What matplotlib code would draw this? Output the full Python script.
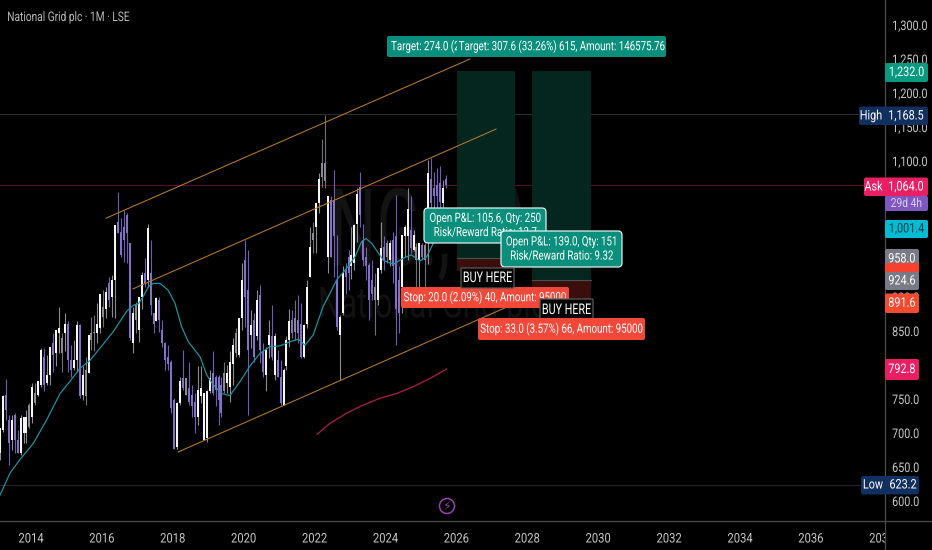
import matplotlib
matplotlib.use("Agg")
import matplotlib.pyplot as plt
import numpy as np
import pandas as pd
from matplotlib.patches import FancyBboxPatch, Rectangle, Circle
from matplotlib.patheffects import AbstractPathEffect
from matplotlib.transforms import Affine2D, Bbox

# ---------- data ----------
highs = [670,707,756,780,727,727,729,705,727,724,734,744,774,773,776,825,825,815,827,847,851,886,847,876,864,829,837,864,861,798,812,844,871,873,891,905,910,915,930,932,1006,1055,1016,1028,1023,979,886,893,900,937,957,1007,984,876,900,900,866,834,829,807,751,745,783,822,781,805,771,759,798,798,759,763,793,820,785,785,783,805,800,
         820,839,854,869,950,984,969,881,876,910,918,832,827,866,888,847,822,807,795,842,883,881,896,903,891,861,925,1003,1011,1038,1082,1133,1168,1048,1048,1087,991,874,945,950,969,1003,1008,1060,1084,1008,974,950,954,935,942,1011,989,984,984,996,1050,945,991,1006,1060,1048,999,979,979,979,979,1101,1104,1084,1089,1092,1072,1079]
tops = [665,707,754,756,719,719,727,690,722,724,724,741,768,759,776,822,812,785,827,832,851,854,839,861,861,807,807,859,859,785,793,844,847,849,861,905,886,908,920,925,1006,1011,996,1003,1021,979,876,888,900,932,935,1001,935,876,898,896,852,832,812,805,749,744,776,781,781,766,756,746,763,766,759,761,781,788,783,783,771,788,788,
        805,829,847,869,925,954,910,859,866,896,903,820,822,844,842,842,807,783,793,837,864,866,869,866,861,859,915,974,994,1038,1074,1097,1097,1048,1043,1043,925,871,935,940,959,962,1006,1052,1062,984,959,947,925,915,942,972,974,979,979,984,989,925,991,1003,1030,999,991,974,979,976,976,1082,1074,1060,1065,1067,1060,1074]
bottoms = [638,670,705,734,685,690,690,670,670,700,700,709,724,744,756,771,771,773,785,815,817,847,817,847,807,793,795,807,754,756,754,788,837,847,847,854,871,883,896,900,925,994,962,984,994,839,832,866,852,900,920,925,888,861,864,866,832,807,802,736,677,680,744,766,756,746,739,724,724,754,690,692,761,759,763,749,729,761,773,
           768,802,817,815,869,900,822,844,812,842,822,790,785,829,812,785,783,744,741,798,837,847,849,847,812,812,861,930,984,1003,1038,1077,1070,959,959,989,856,844,876,930,935,945,950,1008,1021,954,945,896,905,896,896,940,954,959,954,945,883,876,915,989,989,972,969,954,954,959,954,1030,1038,1048,1048,1040,1038,1065]
lows = [636,660,702,719,653,675,670,670,668,685,685,707,714,741,754,768,761,771,771,790,798,817,790,820,790,783,793,790,751,749,741,788,822,820,832,847,856,869,886,871,869,994,959,952,950,837,817,847,834,883,915,915,874,847,864,849,827,793,793,729,677,677,741,763,756,741,724,700,712,744,690,687,759,756,739,712,724,759,759,
        746,771,812,812,852,856,727,825,805,837,803,783,761,810,807,778,783,741,741,793,827,839,837,832,810,810,854,930,964,964,1023,1062,1060,935,959,930,852,778,874,905,910,927,940,981,1003,945,925,866,896,844,888,935,940,950,945,920,829,847,876,959,954,964,967,910,910,954,910,949,1028,1028,1028,1028,1028,1060]
kinds = list("WWWPPWPPWWWGWGWWPWWPWWGWPPWWPWGWGGWWGWPWWPPPPPWGWWPWPPWPPPPPPWWPGPPPWWWWWPPPPGW"
             "WWGWWPPWPWPPWWPWPPWWWPGPPWWWGWWGGWPPPWWPPWWWPPPPPGWWPGWPPPWWWPWGWPGWPPPPWP")
n = len(highs)
assert len(tops) == n and len(bottoms) == n and len(lows) == n and len(kinds) == n, (n, len(tops), len(bottoms), len(lows), len(kinds))
months = pd.date_range("2013-01-01", periods=n, freq="MS")

ma_years = [2013.13,2013.41,2013.69,2014.07,2014.44,2014.82,2015.10,2015.38,2015.67,2015.95,2016.32,2016.70,2016.89,2017.03,2017.17,2017.31,2017.45,2017.64,2017.87,2018.06,2018.25,2018.44,2018.77,2018.96,2019.14,2019.38,2019.61,2019.89,2020.17,2020.46,2020.74,2021.02,2021.30,2021.54,2021.73,2021.96,2022.24,2022.43,2022.62,2022.90,2023.14,2023.32,2023.45,2023.61,2023.94,2024.22,2024.50,2024.73,2024.97,2025.16,2025.35,2025.46]
ma_vals = [609,641,661,685,719,758,776,795,807,825,849,879,888,890,901,915,920,920,910,891,856,834,812,785,771,758,755,775,798,817,827,828,834,838,829,844,886,905,925,942,959,981,986,979,954,948,957,962,953,959,979,986]
long_years = [2022.07,2022.43,2022.90,2023.37,2023.84,2024.31,2024.78,2025.25,2025.72]
long_vals = [698,714,729,741,751,758,768,780,794]

channel_top = ([2016.12,2026.38],[1016,1250])
channel_mid = ([2016.88,2027.12],[912,1147])
channel_bot = ([2018.15,2027.37],[672,884])

high_price, low_price, ask_price = 1168.5, 623.2, 1064.0
trade_years = [(2026.02,2027.65),(2028.13,2029.80)]
trade_entry = [958.0,924.6]
trade_target = [1232.0,1232.0]
trade_stop = [938.0,891.6]

x_ticks = list(range(2014,2040,2))
y_ticks = list(range(600,1301,50))

# ---------- style ----------
plt.rcParams["font.family"] = ["Roboto", "DejaVu Sans"]
BG = "#000000"
TXT = "#c8c8c8"


class Squeeze(AbstractPathEffect):
    """The reference's type is horizontally narrow: narrow the glyphs about their centre or left edge."""
    def __init__(self, sx, anchor="center"):
        super().__init__()
        self.sx, self.anchor = sx, anchor

    def draw_path(self, renderer, gc, tpath, affine, rgbFace=None):
        ext = affine.transform_path(tpath).get_extents()
        x0 = (ext.x0 + ext.x1) / 2 if self.anchor == "center" else ext.x0
        tr = affine + Affine2D().translate(-x0, 0).scale(self.sx, 1).translate(x0, 0)
        renderer.draw_path(gc, tpath, tr, rgbFace)


fig = plt.figure(figsize=(9.32,5.5), dpi=100, facecolor=BG)
ax = fig.add_axes([0, 30/550, 885/932, 520/550], facecolor=BG)
ax.set_xlim(2013.126, 2038.09)
ax.set_ylim(572, 1336.8)

# watermark
fig_tr = fig.transFigure
ax.text(445/932, 1-236/550, "NG., 1M", transform=fig_tr, color="#131313", fontsize=78, ha="center", va="center",
        zorder=0.5, path_effects=[Squeeze(0.6)])
ax.text(432/932, 1-306/550, "National Grid plc", transform=fig_tr, color="#121212", fontsize=31, ha="center", va="center",
        zorder=0.5, path_effects=[Squeeze(0.72)])

# level lines
ax.axhline(high_price, color="#2b2b30", lw=0.8, zorder=1)
ax.axhline(low_price, color="#26262a", lw=0.8, zorder=1)
ax.axhline(ask_price, color="#52122a", lw=0.8, zorder=1)

# trade zones
for (x0,x1),e,t,s in zip(trade_years,trade_entry,trade_target,trade_stop):
    ax.add_patch(Rectangle((x0,e),x1-x0,t-e,fc="#05251f",ec="none",zorder=1.2))
    ax.add_patch(Rectangle((x0,s),x1-x0,e-s,fc="#3a0f0b",ec="none",zorder=1.2))
    ax.plot([x0,x1],[e,e],color="#4a4f50",lw=0.8,zorder=1.3)

# candles
x = np.array([m.year+(m.month-1)/12+0.04 for m in months])
col_body = {"W":"#f6f6f6","P":"#8470c6","G":"#8a8a90"}
col_wick = {"W":"#8c8c90","P":"#6e5fb4","G":"#6f6f75"}
ax.vlines(x, lows, highs, colors=[col_wick[k] for k in kinds], lw=0.8, zorder=2)
ax.bar(x, np.array(tops)-np.array(bottoms), bottom=bottoms, width=2.0/35.45,
       color=[col_body[k] for k in kinds], lw=0, zorder=2.1)

# indicator lines
ax.plot(ma_years, ma_vals, color="#1a97aa", lw=0.85, zorder=3)
ax.plot(long_years, long_vals, color="#a01d49", lw=1.0, zorder=3)
for (xs,ys) in (channel_top,channel_mid,channel_bot):
    ax.plot(xs, ys, color="#b67c28", lw=0.75, zorder=3)

# axes
for s in ("top","left","right","bottom"):
    ax.spines[s].set_visible(False)
ax.yaxis.tick_right()
ax.set_yticks(y_ticks)
ax.set_yticklabels([f"{v:,.1f}" for v in y_ticks])
ax.tick_params(axis="y", length=0, pad=5, labelsize=9.5, labelcolor=TXT)
for lab in ax.get_yticklabels():
    lab.set_path_effects([Squeeze(0.82, "left")])
ax.set_xticks(x_ticks)
ax.set_xticklabels([str(v) for v in x_ticks])
ax.tick_params(axis="x", length=0, pad=9, labelsize=9.5, labelcolor=TXT)
clip = Bbox([[0,0],[885,550]])
for lab in ax.get_xticklabels():
    lab.set_clip_box(clip)
    lab.set_clip_on(True)
    lab.set_path_effects([Squeeze(0.85)])

fig.text(7/932, 1-17.5/550, "National Grid plc \u00b7 1M \u00b7 LSE", color="#b9b9b9", fontsize=9.5, va="center", ha="left",
         path_effects=[Squeeze(0.77, "left")])

# ---------- overlay in pixel coordinates for labels ----------
ov = fig.add_axes([0,0,1,1], facecolor="none", zorder=5)
ov.set_xlim(0,932); ov.set_ylim(550,0); ov.axis("off")
ov.plot([884.5,884.5],[0,550],color="#4d4d4f",lw=0.9,zorder=1)
ov.plot([0,932],[520.5,520.5],color="#4d4d4f",lw=0.9,zorder=1)


def label(px, py, text, tc="white", fs=9.5, sx=0.82, ha="center", z=3):
    anchor = "left" if ha == "left" else "center"
    return ov.text(px, py, text, color=tc, fontsize=fs, ha=ha, va="center", zorder=z, linespacing=1.12,
                   path_effects=[Squeeze(sx, anchor)])


def box(x0,y0,x1,y1,fc,text=None,tc="white",fs=9.5,sx=0.82,ec="none",lw=0,r=2,ha="center",tx=None,z=2):
    p = FancyBboxPatch((x0+r,y0+r),x1-x0-2*r,y1-y0-2*r,boxstyle=f"round,pad={r},rounding_size={r}",
                       fc=fc,ec=ec,lw=lw,zorder=z,mutation_aspect=1)
    ov.add_patch(p)
    if text:
        px = (x0+x1)/2 if tx is None else tx
        label(px,(y0+y1)/2,text,tc=tc,fs=fs,sx=sx,ha=ha,z=z+0.01)
    return p


AX = 885
# price scale labels
box(AX,63,928,82,"#089981","1,232.0")
box(AX,196,928,211,"#7e57c2","29d 4h",tc="#d8d0ee",fs=9)
box(864,177.5,928,196,"#e91e63")
label(873.5,187,"Ask")
label(906,187,"1,064.0")
box(859,106.5,928,125,"#12305f")
label(871,116,"High")
label(906,116,"1,168.5")
box(AX,220,928,238,"#00bcd4","1,001.4",tc="#0b3a44")
box(AX,249,919,269,"#787b86","958.0")
box(AX,263,919,274,"#f7412f")
box(AX,272,919,290,"#787b86","924.6")
box(AX,293.5,919,313,"#f44a30","891.6")
box(AX,359,919,380,"#e91e63","792.8")
box(861,476,919,494.5,"#12305f")
label(873,485,"Low")
label(903,485,"623.2")

# trade labels
TEAL = "#0a8f7c"
RED = "#f2483a"
box(387,36,540,57,TEAL,"Target: 274.0 (2",ha="left",tx=391,fs=9.2,sx=0.76)
box(457,36,666,57,TEAL,"Target: 307.6 (33.26%) 615, Amount: 146575.76",fs=9.2,sx=0.76,z=2.2)
box(424,208,546,243,TEAL,"Open P&L: 105.6, Qty: 250\nRisk/Reward Ratio: 13.7",fs=9.2,sx=0.76,ec="#dfeeee",lw=0.9,r=4,z=2.3)
box(501,231,622,267,TEAL,"Open P&L: 139.0, Qty: 151\nRisk/Reward Ratio: 9.32",fs=9.2,sx=0.76,ec="#dfeeee",lw=0.9,r=4,z=2.4)
box(401,287,569,308,RED,"Stop: 20.0 (2.09%) 40, Amount: 95000",fs=9.2,sx=0.76,z=2.5)
box(461,268,514,288,"#000000","BUY HERE",fs=10.6,sx=0.73,ec="#5a5a5a",lw=0.9,r=1,z=2.6)
box(540,299,593,321,"#000000","BUY HERE",fs=10.6,sx=0.73,ec="#5a5a5a",lw=0.9,r=1,z=2.7)
box(478,318,645,340,RED,"Stop: 33.0 (3.57%) 66, Amount: 95000",fs=9.2,sx=0.76,z=2.8)

# bolt icon
ov.add_patch(Circle((447,506),7.5,fc="#000000",ec="#9c3fb5",lw=1.1,zorder=2))
ov.text(447,506,"\u26a1",color="#8e3aa6",fontsize=9,ha="center",va="center",family="DejaVu Sans",zorder=3)

fig.savefig("out.png", dpi=100, facecolor=BG)
